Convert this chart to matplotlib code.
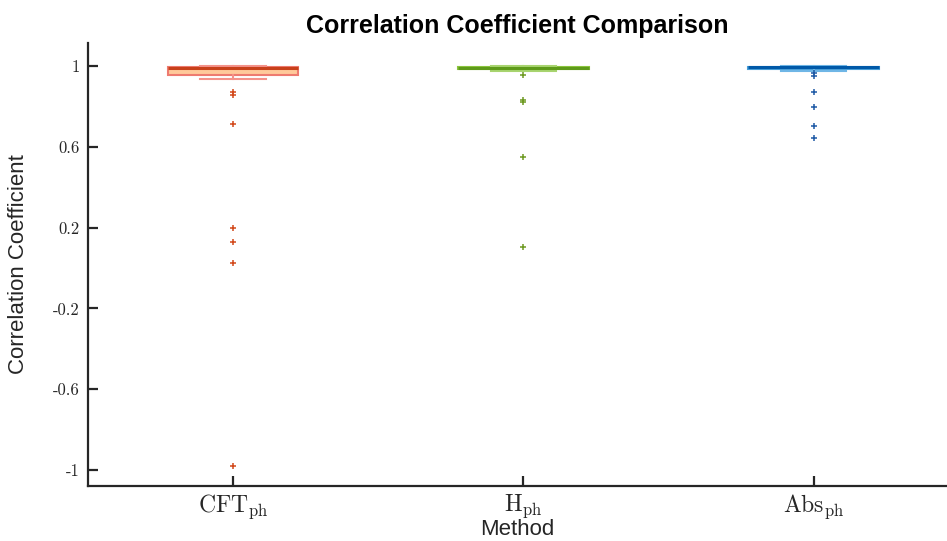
import matplotlib
matplotlib.use("Agg")
import matplotlib.pyplot as plt

methods = [r"$\mathrm{CFT}_{\mathrm{ph}}$", r"$\mathrm{H}_{\mathrm{ph}}$", r"$\mathrm{Abs}_{\mathrm{ph}}$"]
medians = [0.992, 0.992, 0.994]
q1 = [0.955, 0.984, 0.985]
q3 = [0.998, 0.997, 0.998]
whislo = [0.935, 0.976, 0.977]
whishi = [1.003, 1.0, 1.0]
fliers = [
    [0.873, 0.856, 0.712, 0.197, 0.127, 0.025, -0.98],
    [0.955, 0.832, 0.823, 0.550, 0.104],
    [0.964, 0.950, 0.870, 0.796, 0.705, 0.644],
]
yticks = [1, 0.6, 0.2, -0.2, -0.6, -1]
ytick_labels = ["1", "0.6", "0.2", "-0.2", "-0.6", "-1"]

face_colors = ["#FFC99A", "#8CC63F", "#4A9FD8"]
edge_colors = ["#EE7B70", "#8CC63F", "#4A9FD8"]
median_colors = ["#C8401A", "#5E9A1A", "#0059A8"]
cap_colors = ["#F4928A", "#A8D46F", "#6FB6E6"]
flier_colors = ["#D2481A", "#6E9A22", "#1F5AA6"]

plt.rcParams["mathtext.fontset"] = "cm"

fig = plt.figure(figsize=(9.47, 5.41), dpi=100)
ax = fig.add_axes([88 / 947, 1 - 486 / 541, 1 - 88 / 947, (486 - 43) / 541])

for i in range(3):
    stats = [dict(med=medians[i], q1=q1[i], q3=q3[i], whislo=whislo[i],
                  whishi=whishi[i], fliers=fliers[i])]
    ax.bxp(stats, positions=[i + 1], widths=0.45, patch_artist=True,
           boxprops=dict(facecolor=face_colors[i], edgecolor=edge_colors[i], linewidth=1.5),
           medianprops=dict(color=median_colors[i], linewidth=2.2),
           whiskerprops=dict(color=cap_colors[i], linewidth=1.5, linestyle="-"),
           capprops=dict(color=cap_colors[i], linewidth=1.5),
           capwidths=0.225,
           flierprops=dict(marker="+", markeredgecolor=flier_colors[i],
                           markersize=5, markeredgewidth=1.1, linestyle="none"),
           manage_ticks=False)

ax.set_xlim(0.5, 3.46)
ax.set_ylim(-1.08, 1.115)
ax.set_xticks([1, 2, 3])
ax.set_xticklabels(methods, fontsize=17)
ax.set_yticks(yticks)
ax.set_yticklabels(ytick_labels, fontsize=12, fontfamily="cmr10")

for s in ["top", "right"]:
    ax.spines[s].set_visible(False)
for s in ["left", "bottom"]:
    ax.spines[s].set_color("#262626")
    ax.spines[s].set_linewidth(1.6)
ax.tick_params(axis="both", direction="in", length=7, width=1.6, color="#262626",
               labelcolor="#262626")
ax.tick_params(axis="y", pad=6)
ax.tick_params(axis="x", pad=5)

ax.set_title("Correlation Coefficient Comparison", fontsize=18, fontweight="bold",
             fontfamily="Liberation Sans", pad=7)
ax.set_xlabel("Method", fontsize=16, fontfamily="Liberation Sans", labelpad=-2, color="#262626")
ax.set_ylabel("Correlation Coefficient", fontsize=16, fontfamily="Liberation Sans",
              color="#262626")
ax.yaxis.set_label_coords(-0.0685, 0.5)

fig.savefig("out.png", dpi=100)
